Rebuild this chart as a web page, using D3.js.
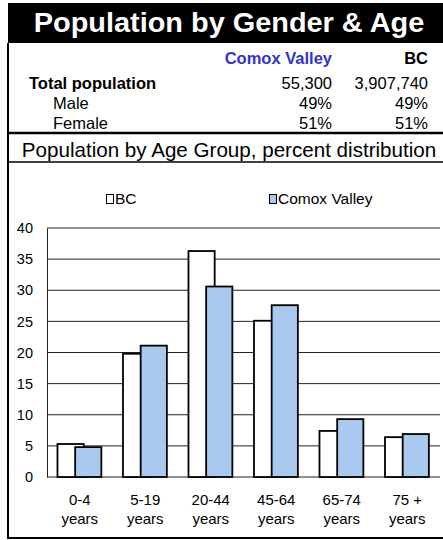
<!DOCTYPE html>
<html>
<head>
<meta charset="utf-8">
<script src="https://cdn.jsdelivr.net/npm/d3@7"></script>
<style>
  body { margin: 0; background: #fff; }
  svg { display: block; font-family: "Liberation Sans", Arial, sans-serif; }
</style>
</head>
<body>
<script>
"use strict";

var width = 443;
var height = 540;

// Summary table
var tableColumns = ["Comox Valley", "BC"];
var tableRows = [
    {label: "Total population", bold: true, values: ["55,300", "3,907,740"]},
    {label: "Male", bold: false, values: ["49%", "49%"]},
    {label: "Female", bold: false, values: ["51%", "51%"]}
];

// Age distribution
var ageGroups = ["0-4|years", "5-19|years", "20-44|years", "45-64|years", "65-74|years", "75 +|years"];
var seriesNames = ["BC", "Comox Valley"];
var bcValues = [5.3, 19.8, 36.3, 25.1, 7.4, 6.4];
var comoxValues = [4.8, 21.1, 30.6, 27.6, 9.3, 6.9];
var yTicks = [0, 5, 10, 15, 20, 25, 30, 35, 40];

var colors = {"BC": "#ffffff", "Comox Valley": "#a9c9ee"};

var svg = d3.select("body").append("svg")
    .attr("width", width)
    .attr("height", height);

// Title bar
svg.append("rect")
    .attr("x", 8).attr("y", 3)
    .attr("width", width - 8).attr("height", 40)
    .attr("fill", "#000");
svg.append("text")
    .attr("transform", "translate(229,32) scale(1.07,1)")
    .attr("text-anchor", "middle")
    .attr("fill", "#fff")
    .attr("font-weight", "bold")
    .attr("font-size", 27)
    .text("Population by Gender & Age");

// Left & bottom frame
svg.append("path")
    .attr("d", "M8,43V538H" + width)
    .attr("fill", "none")
    .attr("stroke", "#000")
    .attr("stroke-width", 2);

// Table
var colX = [332, 428];
svg.selectAll(".col-head")
    .data(tableColumns)
    .enter().append("text")
    .attr("class", "col-head")
    .attr("x", function(d, i) { return colX[i]; })
    .attr("y", 64)
    .attr("text-anchor", "end")
    .attr("font-weight", "bold")
    .attr("font-size", 16.5)
    .attr("fill", function(d, i) { return i == 0 ? "#3333cc" : "#000"; })
    .text(function(d) { return d; });

var rows = svg.selectAll(".row")
    .data(tableRows)
    .enter().append("g")
    .attr("class", "row")
    .attr("transform", function(d, i) { return "translate(0," + (89 + i * 20) + ")"; });

rows.append("text")
    .attr("x", function(d) { return d.bold ? 29 : 53; })
    .attr("font-weight", function(d) { return d.bold ? "bold" : "normal"; })
    .attr("font-size", 16.5)
    .text(function(d) { return d.label; });

rows.selectAll(".val")
    .data(function(d) { return d.values; })
    .enter().append("text")
    .attr("class", "val")
    .attr("x", function(d, i) { return colX[i]; })
    .attr("text-anchor", "end")
    .attr("font-size", 16.5)
    .text(function(d) { return d; });

svg.append("line")
    .attr("x1", 8).attr("x2", width)
    .attr("y1", 133).attr("y2", 133)
    .attr("stroke", "#000").attr("stroke-width", 2.5);

svg.append("text")
    .attr("x", 229).attr("y", 157)
    .attr("text-anchor", "middle")
    .attr("font-size", 20.6)
    .text("Population by Age Group, percent distribution");

svg.append("line")
    .attr("x1", 8).attr("x2", width)
    .attr("y1", 162).attr("y2", 162)
    .attr("stroke", "#000").attr("stroke-width", 1.5);

// Chart
var plot = {left: 47, right: 440, top: 228, bottom: 477};

var x = d3.scaleBand()
    .domain(ageGroups)
    .range([plot.left, plot.right]);

var y = d3.scaleLinear()
    .domain([0, 40])
    .range([plot.bottom, plot.top]);

// Gridlines
svg.append("g")
    .selectAll("line")
    .data(yTicks)
    .enter().append("line")
    .attr("x1", plot.left).attr("x2", plot.right)
    .attr("y1", function(d) { return y(d); })
    .attr("y2", function(d) { return y(d); })
    .attr("stroke", "#222")
    .attr("stroke-width", 1);

// Y axis
var yAxis = svg.append("g")
    .attr("transform", "translate(" + plot.left + ",0)")
    .call(d3.axisLeft(y).tickValues(yTicks).tickSize(0).tickPadding(14));
yAxis.select(".domain").attr("stroke", "#222");
yAxis.selectAll("text")
    .attr("font-family", "Liberation Sans, Arial, sans-serif")
    .attr("font-size", 14.5)
    .attr("fill", "#000");

// X axis labels (two lines)
var xLabels = svg.append("g")
    .selectAll("text")
    .data(ageGroups)
    .enter().append("text")
    .attr("x", function(d) { return x(d) + x.bandwidth() / 2; })
    .attr("y", 505)
    .attr("text-anchor", "middle")
    .attr("font-size", 15);
xLabels.selectAll("tspan")
    .data(function(d) { return d.split("|"); })
    .enter().append("tspan")
    .attr("x", function() { return d3.select(this.parentNode).attr("x"); })
    .attr("dy", function(d, i) { return i == 0 ? 0 : 19; })
    .text(function(d) { return d; });

// Bars: Excel-style overlapping clustered columns
var barW = x.bandwidth() * 0.4;
var offsets = [x.bandwidth() * 0.16, x.bandwidth() * 0.43];
var series = [bcValues, comoxValues];

series.forEach(function(values, s) {
    svg.append("g")
        .selectAll("rect")
        .data(values)
        .enter().append("rect")
        .attr("x", function(d, i) { return x(ageGroups[i]) + offsets[s]; })
        .attr("y", function(d) { return y(d); })
        .attr("width", barW)
        .attr("height", function(d) { return y(0) - y(d); })
        .attr("fill", colors[seriesNames[s]])
        .attr("stroke", "#000")
        .attr("stroke-width", 1.8);
});

// Legend
var legendX = [106, 269];
var legend = svg.selectAll(".legend")
    .data(seriesNames)
    .enter().append("g")
    .attr("class", "legend")
    .attr("transform", function(d, i) { return "translate(" + legendX[i] + ",194)"; });
legend.append("rect")
    .attr("x", 0.5).attr("y", 0.5)
    .attr("width", 7).attr("height", 9)
    .attr("fill", function(d) { return colors[d]; })
    .attr("stroke", "#000")
    .attr("stroke-width", 1);
legend.append("text")
    .attr("x", 9).attr("y", 10)
    .attr("font-size", 15.5)
    .text(function(d) { return d; });
</script>
</body>
</html>
